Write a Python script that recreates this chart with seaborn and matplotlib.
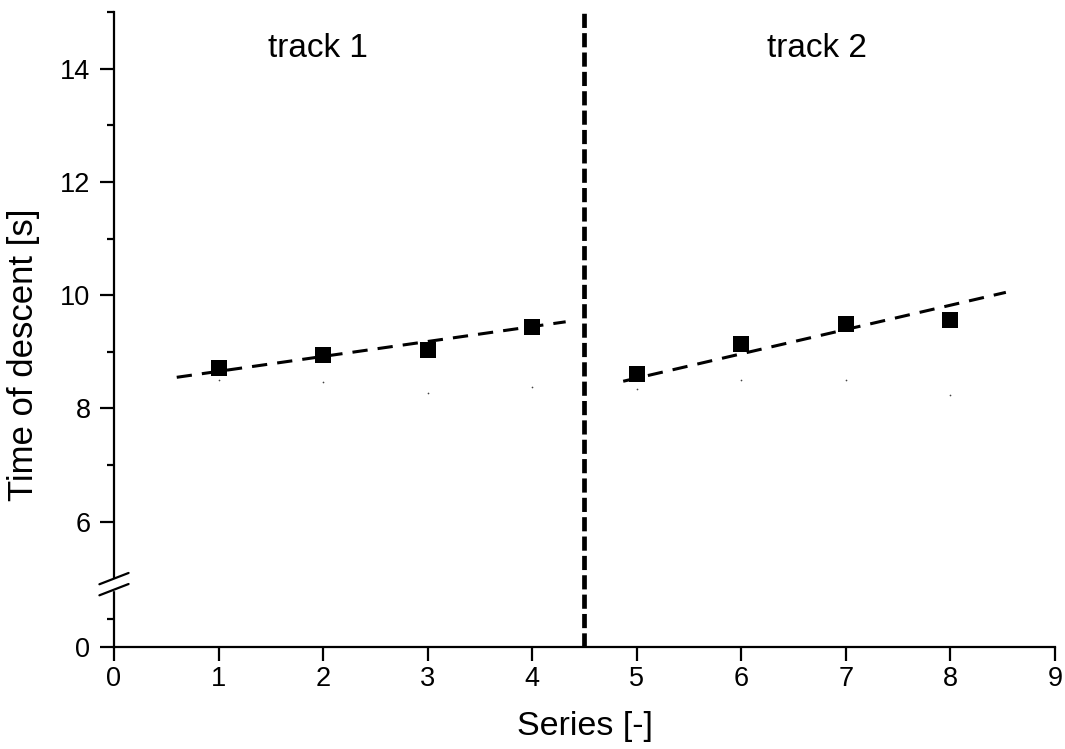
import numpy as np
import pandas as pd
import matplotlib
matplotlib.use('Agg')
import matplotlib.pyplot as plt
import seaborn as sns

# measured points (squares) and the faint dots below them
series = [1, 2, 3, 4, 5, 6, 7, 8]
descent_time = [8.72, 8.95, 9.04, 9.44, 8.61, 9.13, 9.49, 9.56]
faint_time = [8.50, 8.46, 8.27, 8.37, 8.34, 8.50, 8.50, 8.24]

# linear fits per track (end points)
fit1_x = [0.60, 4.32]
fit1_y = [8.55, 9.53]
fit2_x = [4.87, 8.53]
fit2_y = [8.48, 10.05]

track_labels = ['track 1', 'track 2']
track_label_x = [1.95, 6.72]
track_border = 4.5

# broken y axis: 0..1.1 kept below, 4.9..15 above
LOW_OFF = 3.788
LOW_END = 1.1
HIGH_START = 4.9


def fwd(y):
    y = np.asarray(y, dtype=float)
    low = y + LOW_OFF
    mid = (LOW_END + LOW_OFF) + (y - LOW_END) * (HIGH_START - LOW_END - LOW_OFF) / (HIGH_START - LOW_END)
    return np.where(y >= HIGH_START, y, np.where(y <= LOW_END, low, mid))


def inv(g):
    g = np.asarray(g, dtype=float)
    lo_top = LOW_END + LOW_OFF
    low = g - LOW_OFF
    mid = LOW_END + (g - lo_top) * (HIGH_START - LOW_END) / (HIGH_START - lo_top)
    return np.where(g >= HIGH_START, g, np.where(g <= lo_top, low, mid))


sns.set_theme(style='ticks')
plt.rcParams['font.family'] = ['Liberation Sans', 'DejaVu Sans']

df = pd.DataFrame({'series': series, 'time': descent_time, 'faint': faint_time})

fig = plt.figure(figsize=(10.65, 7.49), dpi=100)
ax = fig.add_axes([0.10704, 0.13618, 0.88357, 0.84780])

ax.set_yscale('function', functions=(fwd, inv))
ax.set_xlim(0, 9)
ax.set_ylim(0, 15)

sns.lineplot(x=fit1_x, y=fit1_y, ax=ax, color='black', lw=2.2,
             linestyle=(0, (5, 3.3)), sort=False, estimator=None, zorder=3)
sns.lineplot(x=fit2_x, y=fit2_y, ax=ax, color='black', lw=2.2,
             linestyle=(0, (5, 3.3)), sort=False, estimator=None, zorder=3)
sns.scatterplot(data=df, x='series', y='time', ax=ax, marker='s', s=121,
                color='black', linewidth=0, zorder=4)
sns.scatterplot(data=df, x='series', y='faint', ax=ax, marker='o', s=1.5,
                color='#444444', linewidth=0, zorder=2)

ax.axvline(track_border, color='black', lw=3.4, linestyle=(0, (3, 1.1)), zorder=3)

for lab, xx in zip(track_labels, track_label_x):
    ax.text(xx, 14.21, lab, ha='center', va='baseline', fontsize=24, color='black')

ax.set_xticks(range(0, 10))
ax.set_yticks([0, 6, 8, 10, 12, 14])
ax.set_yticks([0.5, 7, 9, 11, 13, 15], minor=True)
ax.set_yticklabels(['0', '6', '8', '10', '12', '14'])

for s in ['top', 'right']:
    ax.spines[s].set_visible(False)
for s in ['left', 'bottom']:
    ax.spines[s].set_linewidth(1.6)
    ax.spines[s].set_color('black')

ax.tick_params(axis='both', which='major', direction='out', length=10,
               width=1.6, color='black', labelsize=19.5, labelcolor='black')
ax.tick_params(axis='y', which='minor', direction='out', length=5, width=1.6, color='black')
ax.tick_params(axis='x', which='major', pad=4)
ax.tick_params(axis='y', which='major', pad=7)

ax.set_xlabel('Series [-]', fontsize=24.5, color='black')
ax.set_ylabel('Time of descent [s]', fontsize=25, color='black')
ax.xaxis.set_label_coords(0.5, -0.1)
ax.yaxis.set_label_coords(-0.079, 0.46)

# break marks on the y axis
ybk = 0.099
dx, dy, gap = 0.0155, 0.0089, 0.0087
ax.fill([-0.004, 0.004, 0.004, -0.004], [ybk - gap, ybk - gap, ybk + gap, ybk + gap],
        color='white', transform=ax.transAxes, clip_on=False, zorder=5)
for off in (-gap, gap):
    ax.plot([-dx, dx], [ybk + off - dy, ybk + off + dy], color='black', lw=1.6,
            transform=ax.transAxes, clip_on=False, zorder=6)

fig.savefig('out.png', dpi=100, facecolor='white')
